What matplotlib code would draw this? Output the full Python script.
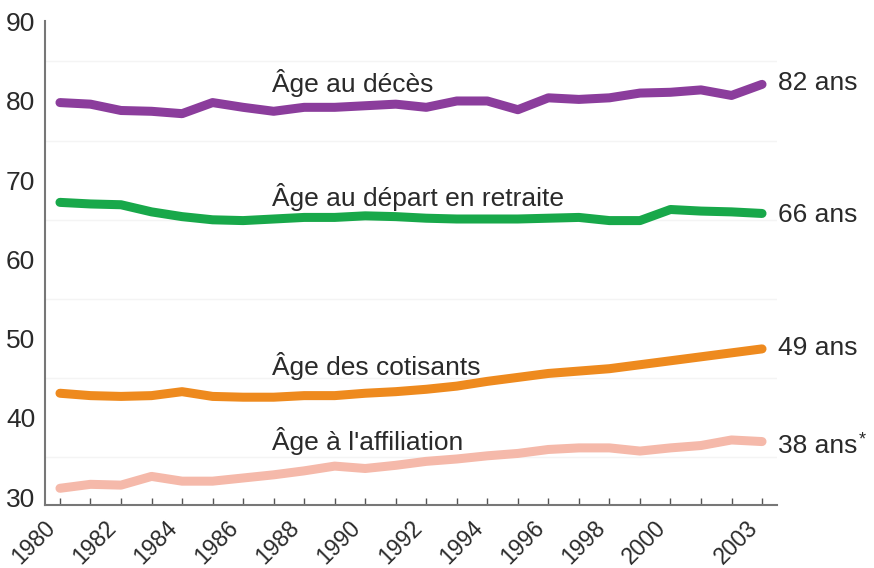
import numpy as np
import matplotlib.pyplot as plt

plt.rcParams['font.family'] = ['Liberation Sans', 'DejaVu Sans']

years = np.arange(1980, 2004)

# ages
age_deces = [79.8, 79.6, 78.8, 78.7, 78.4, 79.8, 79.2, 78.7, 79.2, 79.2, 79.4, 79.6,
             79.2, 80.0, 80.0, 78.9, 80.4, 80.2, 80.4, 81.0, 81.1, 81.4, 80.7, 82.1]
age_retraite = [67.2, 67.0, 66.9, 66.0, 65.4, 65.0, 64.9, 65.1, 65.3, 65.3, 65.5, 65.4,
                65.2, 65.1, 65.1, 65.1, 65.2, 65.3, 64.9, 64.9, 66.3, 66.1, 66.0, 65.8]
age_cotisants = [43.1, 42.8, 42.7, 42.8, 43.3, 42.7, 42.6, 42.6, 42.8, 42.8, 43.1, 43.3,
                 43.6, 44.0, 44.6, 45.1, 45.6, 45.9, 46.2, 46.7, 47.2, 47.7, 48.2, 48.7]
age_affiliation = [31.1, 31.6, 31.5, 32.6, 32.0, 32.0, 32.4, 32.8, 33.3, 33.9, 33.6, 34.0,
                   34.5, 34.8, 35.2, 35.5, 36.0, 36.2, 36.2, 35.8, 36.2, 36.5, 37.2, 37.0]

series = [
    (age_deces, '#8B3D9C', 'Âge au décès', '82 ans'),
    (age_retraite, '#18A84A', 'Âge au départ en retraite', '66 ans'),
    (age_cotisants, '#EE8A1E', 'Âge des cotisants', '49 ans'),
    (age_affiliation, '#F5B9AA', "Âge à l'affiliation", '38 ans'),
]
label_y = [81.1, 66.8, 45.4, 35.9]
end_y = [81.4, 64.7, 47.9, 35.6]

tick_years = [1980, 1982, 1984, 1986, 1988, 1990, 1992, 1994, 1996, 1998, 2000, 2003]

fig = plt.figure(figsize=(8.74, 5.68), dpi=100)
ax = fig.add_axes([45 / 874, 1 - 505 / 568, 732 / 874, 484 / 568])

for y in [35, 45, 55, 65, 75, 85]:
    ax.axhline(y, color='#f4f4f4', lw=1, zorder=0)

end_texts = []
for (vals, color, name, end), ly, ey in zip(series, label_y, end_y):
    ax.plot(years, vals, color=color, lw=6.5, solid_capstyle='round',
            solid_joinstyle='round', zorder=3)
    ax.text(1986.95, ly, name, fontsize=19, color='#2a2a2a', va='baseline', ha='left')
    end_texts.append(ax.text(2003.52, ey, end, fontsize=19, color='#2a2a2a',
                             va='baseline', ha='left'))

ax.set_xlim(1979.51, 2003.49)
ax.set_ylim(28.99, 90.1)
ax.set_yticks([30, 40, 50, 60, 70, 80, 90])
ax.set_xticks(years, minor=True)
ax.set_xticks(tick_years)
ax.set_xticklabels([str(y) for y in tick_years], rotation=45, ha='right', va='top')
ax.tick_params(axis='y', length=0, pad=7, labelsize=19, labelcolor='#2a2a2a')
ax.tick_params(axis='x', which='both', direction='in', length=5, width=1,
               color='#555555', labelsize=16.5, labelcolor='#2a2a2a', pad=8)

for s in ['top', 'right']:
    ax.spines[s].set_visible(False)
for s in ['left', 'bottom']:
    ax.spines[s].set_color('#777777')
    ax.spines[s].set_linewidth(1.5)

# small raised asterisk after "38 ans"
fig.canvas.draw()
bb = end_texts[-1].get_window_extent()
ax.annotate('*', xy=(bb.x1 + 1, bb.y1 + 2), xycoords='figure pixels',
            fontsize=13, color='#2a2a2a', ha='left', va='top')

fig.savefig('out.png', dpi=100)
